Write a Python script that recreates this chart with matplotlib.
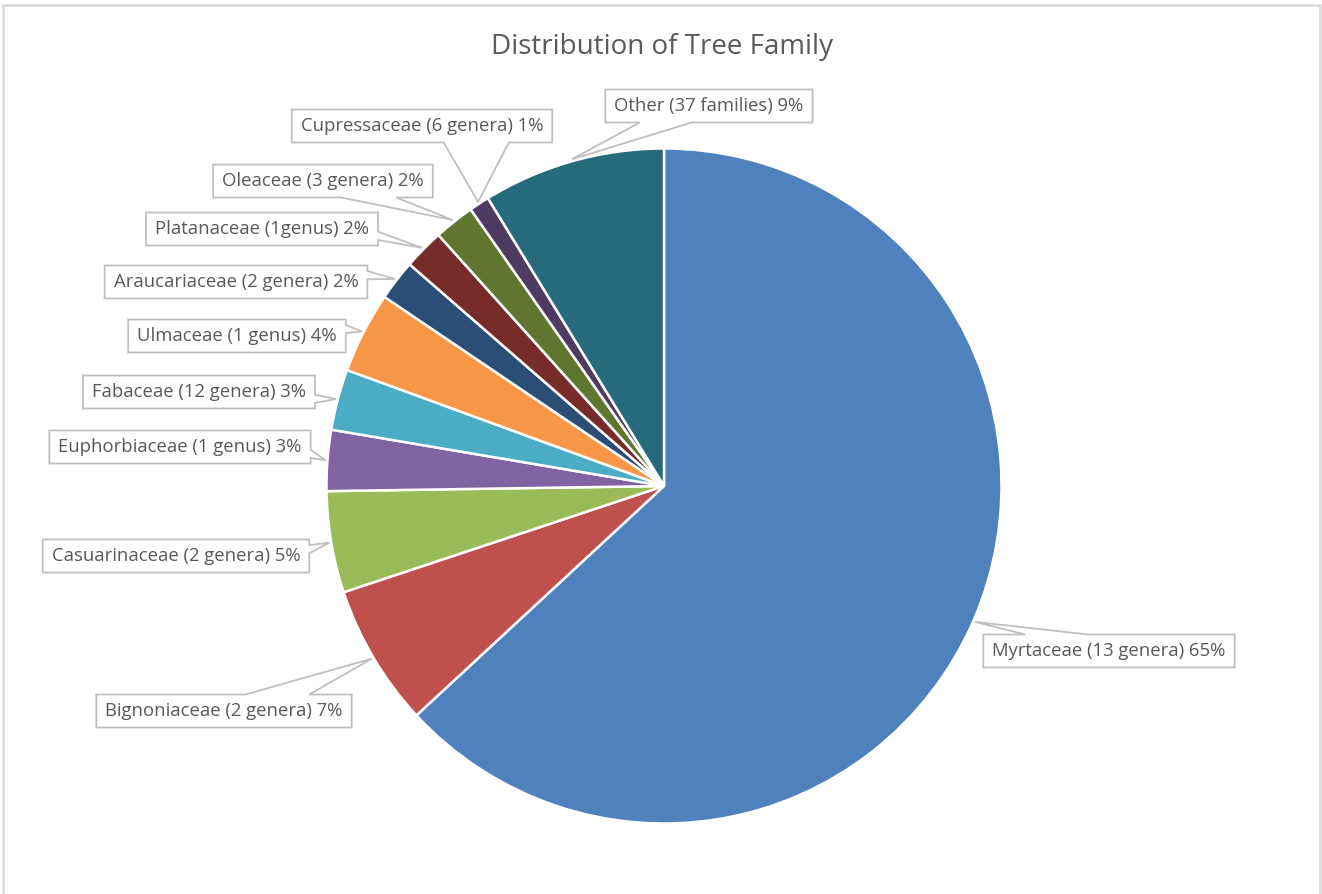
import numpy as np
import matplotlib
matplotlib.use("Agg")
import matplotlib.pyplot as plt
from matplotlib.patches import Polygon

# tree family share (percent, as written on each label)
families = ["Myrtaceae", "Bignoniaceae", "Casuarinaceae", "Euphorbiaceae", "Fabaceae",
            "Ulmaceae", "Araucariaceae", "Platanaceae", "Oleaceae", "Cupressaceae", "Other"]
genera = ["(13 genera)", "(2 genera)", "(2 genera)", "(1 genus)", "(12 genera)",
          "(1 genus)", "(2 genera)", "(1genus)", "(3 genera)", "(6 genera)", "(37 families)"]
shares = [65, 7, 5, 3, 3, 4, 2, 2, 2, 1, 9]
colors = ["#4F81BD", "#C0504D", "#9BBB59", "#8064A2", "#4BACC6", "#F79646",
          "#2C4D75", "#772C2A", "#5F7530", "#4D3B62", "#276A7C"]

# label box centres, in pixels from the top-left corner
box_centres = [(1109, 651), (224, 711), (176, 556), (180, 447), (199, 392),
               (237, 336), (236, 282), (262, 229), (323, 181), (422, 126), (709, 106)]

W, H = 1322, 894
CX, CY, R = 664, H - 486, 337.5
FONT = "Open Sans"
GREY_TXT = "#595959"
GREY_BOX = "#bfbfbf"

fig = plt.figure(figsize=(W / 100, H / 100), dpi=100)
ax = fig.add_axes([0, 0, 1, 1])

wedges, _ = ax.pie(shares, colors=colors, startangle=90, counterclock=False,
                   radius=R, center=(CX, CY),
                   wedgeprops=dict(edgecolor="white", linewidth=1.8))
ax.set_xlim(0, W)
ax.set_ylim(0, H)
ax.set_aspect("equal")
ax.axis("off")

# chart frame
ax.plot([3, 3, 1320, 1320], [0, H - 5, H - 5, 0], color="#d9d9d9", lw=1.8,
        solid_joinstyle="miter", clip_on=False)

ax.text(662, H - 47, "Distribution of Tree Family", ha="center", va="center",
        fontsize=20, color=GREY_TXT, family=FONT)

labels = [f"{f} {g} {s}%" for f, g, s in zip(families, genera, shares)]
texts = []
for lab, (bx, by) in zip(labels, box_centres):
    t = ax.text(bx, H - by, lab, ha="center", va="center", fontsize=13.3,
                color=GREY_TXT, family=FONT, zorder=5)
    texts.append(t)

fig.canvas.draw()
renderer = fig.canvas.get_renderer()


def callout(x0, x1, yb, yt, tip):
    # rectangle with a wedge pointer on the side facing the tip
    w, h = x1 - x0, yt - yb
    cx, cy = (x0 + x1) / 2, (yb + yt) / 2
    tx, ty = tip
    dx, dy_down = tx - cx, cy - ty
    pts = [(x0, yt)]
    if abs(dx) * h / w > abs(dy_down):
        f1, f2 = (7 / 12, 10 / 12) if dy_down > 0 else (2 / 12, 5 / 12)
        if dx > 0:
            pts += [(x1, yt), (x1, yt - f1 * h), tip, (x1, yt - f2 * h), (x1, yb), (x0, yb)]
        else:
            pts += [(x1, yt), (x1, yb), (x0, yb), (x0, yt - f2 * h), tip, (x0, yt - f1 * h)]
    else:
        f1, f2 = (7 / 12, 10 / 12) if dx > 0 else (2 / 12, 5 / 12)
        if dy_down < 0:
            pts += [(x0 + f1 * w, yt), tip, (x0 + f2 * w, yt), (x1, yt), (x1, yb), (x0, yb)]
        else:
            pts += [(x1, yt), (x1, yb), (x0 + f2 * w, yb), tip, (x0 + f1 * w, yb), (x0, yb)]
    return Polygon(pts, closed=True, facecolor="white", edgecolor=GREY_BOX,
                   lw=1.3, zorder=4, joinstyle="miter")


for t, wdg in zip(texts, wedges):
    bb = t.get_window_extent(renderer)
    mid = np.deg2rad((wdg.theta1 + wdg.theta2) / 2)
    tip = (CX + (R + 2) * np.cos(mid), CY + (R + 2) * np.sin(mid))
    yc = (bb.y0 + bb.y1) / 2
    ax.add_patch(callout(bb.x0 - 9, bb.x1 + 9, yc - 16.5, yc + 16.5, tip))

fig.savefig("out.png", dpi=100, facecolor="white")
